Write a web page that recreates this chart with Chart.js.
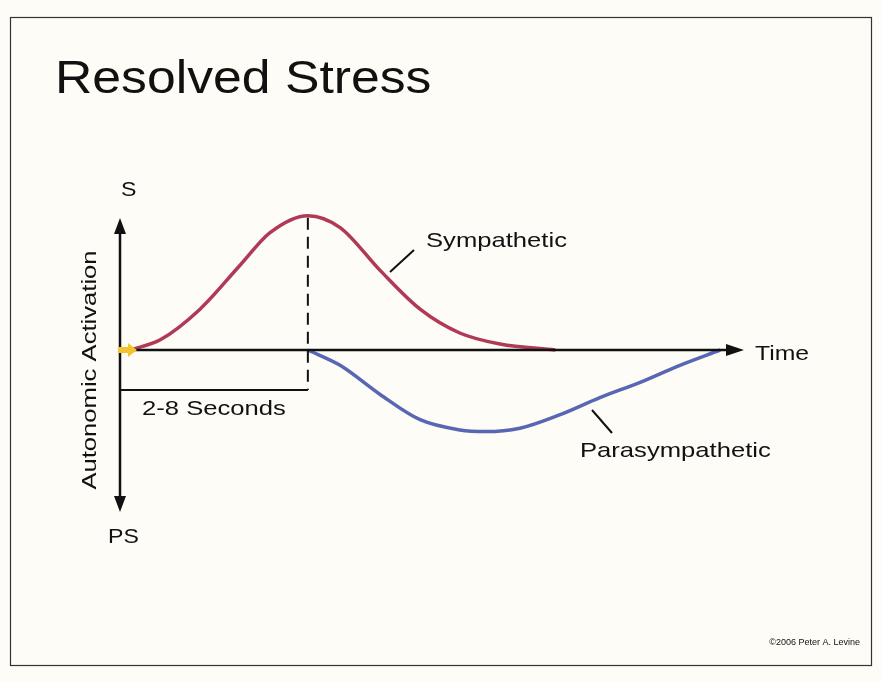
<!DOCTYPE html>
<html><head><meta charset="utf-8">
<script src="https://cdn.jsdelivr.net/npm/chart.js@4"></script>
<style>html,body{margin:0;padding:0;background:#fff}#wrap{position:relative;width:882px;height:682px}</style>
</head><body><div id="wrap"><canvas id="c" width="882" height="682"></canvas></div>
<script>
const titleText = "Resolved Stress";
const symX = [1.6, 6.5, 12.9, 19.4, 24.2, 30.3, 35.5, 41.9, 48.4, 54.8, 61.3, 70.2];
const symY = [0, 0.06, 0.24, 0.50, 0.69, 0.79, 0.72, 0.47, 0.24, 0.10, 0.035, 0];
const paraX = [30.3, 35.5, 41.9, 48.4, 54.8, 58.9, 64.5, 71.0, 77.4, 83.9, 90.3, 96.8];
const paraY = [0, -0.09, -0.26, -0.41, -0.47, -0.48, -0.46, -0.38, -0.28, -0.19, -0.09, 0];
const seriesNames = ["Sympathetic", "Parasympathetic"];
const axisLabels = {top: "S", bottom: "PS", y: "Autonomic Activation", x: "Time", interval: "2-8 Seconds"};
const credit = "©2006 Peter A. Levine";

const F = '"Liberation Sans", Arial, sans-serif';
function stretched(c, text, x, y, size, sx) {
  c.save(); c.translate(x, y); c.scale(sx, 1); c.font = size + 'px ' + F; c.fillText(text, 0, 0); c.restore();
}
const deco = {
  id: 'deco',
  beforeDraw(chart) {
    const c = chart.ctx;
    c.save();
    c.fillStyle = '#fdfcf6'; c.fillRect(0,0,882,682);
    c.strokeStyle = '#333'; c.lineWidth = 1.2; c.strokeRect(10.5,17.5,861,648);
    c.fillStyle = '#111'; c.textBaseline = 'alphabetic';
    stretched(c, titleText, 55, 93, 47, 1.1);
    c.restore();
  },
  afterDatasetsDraw(chart) {
    const c = chart.ctx, xs = chart.scales.x, ys = chart.scales.y;
    const x0 = xs.getPixelForValue(0), y0 = ys.getPixelForValue(0);
    const xe = xs.getPixelForValue(100);
    const peakX = xs.getPixelForValue(symX[5]), peakY = ys.getPixelForValue(symY[5]);
    c.save();
    c.strokeStyle = '#111'; c.fillStyle = '#111'; c.lineWidth = 2.5;
    c.beginPath(); c.moveTo(x0, y0); c.lineTo(xe - 8, y0); c.stroke();
    c.beginPath(); c.moveTo(xe+4, y0); c.lineTo(xe-14, y0-6); c.lineTo(xe-14, y0+6); c.closePath(); c.fill();
    const ytop = 220, ybot = 510;
    c.beginPath(); c.moveTo(x0, ytop+8); c.lineTo(x0, ybot-8); c.stroke();
    c.beginPath(); c.moveTo(x0, ytop-2); c.lineTo(x0-6, ytop+14); c.lineTo(x0+6, ytop+14); c.closePath(); c.fill();
    c.beginPath(); c.moveTo(x0, ybot+2); c.lineTo(x0-6, ybot-14); c.lineTo(x0+6, ybot-14); c.closePath(); c.fill();
    c.lineWidth = 2; c.setLineDash([12,7]);
    c.beginPath(); c.moveTo(peakX, peakY+2); c.lineTo(peakX, 390); c.stroke();
    c.setLineDash([]);
    c.beginPath(); c.moveTo(x0, 390); c.lineTo(peakX, 390); c.stroke();
    c.fillStyle = '#f2c230';
    c.beginPath(); c.moveTo(x0-2, y0-3); c.lineTo(x0+8, y0-3); c.lineTo(x0+8, y0-7); c.lineTo(x0+17, y0); c.lineTo(x0+8, y0+7); c.lineTo(x0+8, y0+3); c.lineTo(x0-2, y0+3); c.closePath(); c.fill();
    c.strokeStyle = '#111'; c.lineWidth = 2;
    c.beginPath(); c.moveTo(390, 272); c.lineTo(414, 250); c.stroke();
    c.beginPath(); c.moveTo(592, 410); c.lineTo(612, 433); c.stroke();
    c.fillStyle = '#111'; c.textBaseline = 'middle'; c.textAlign = 'left';
    stretched(c, axisLabels.top, 121, 190, 21, 1.1);
    stretched(c, axisLabels.bottom, 108, 537, 21, 1.1);
    stretched(c, axisLabels.x, 755, 354, 21, 1.18);
    stretched(c, seriesNames[0], 426, 241, 21, 1.22);
    stretched(c, seriesNames[1], 580, 451, 21, 1.22);
    stretched(c, axisLabels.interval, 142, 409, 21, 1.22);
    c.save(); c.translate(90, 370); c.rotate(-Math.PI/2); c.scale(1.22, 1); c.textAlign = 'center';
    c.font = '21px ' + F; c.fillText(axisLabels.y, 0, 0); c.restore();
    c.font = '9px ' + F; c.textAlign = 'right';
    c.fillText(credit, 860, 643);
    c.restore();
  }
};

new Chart(document.getElementById('c'), {
  type: 'line',
  data: { datasets: [
    { label: seriesNames[0], data: symX.map((x,i)=>({x, y: symY[i]})), borderColor: '#b03a55', borderWidth: 3.5, pointRadius: 0, tension: 0.4, cubicInterpolationMode: 'monotone' },
    { label: seriesNames[1], data: paraX.map((x,i)=>({x, y: paraY[i]})), borderColor: '#5866b3', borderWidth: 3.5, pointRadius: 0, tension: 0.4, cubicInterpolationMode: 'monotone' }
  ]},
  options: {
    responsive: false, animation: false, devicePixelRatio: 1,
    layout: { padding: { left: 120, right: 142, top: 180, bottom: 162 } },
    plugins: { legend: { display: false }, tooltip: { enabled: false } },
    scales: {
      x: { type: 'linear', min: 0, max: 100, display: false },
      y: { min: -1, max: 1, display: false }
    }
  },
  plugins: [deco]
});
</script></body></html>
